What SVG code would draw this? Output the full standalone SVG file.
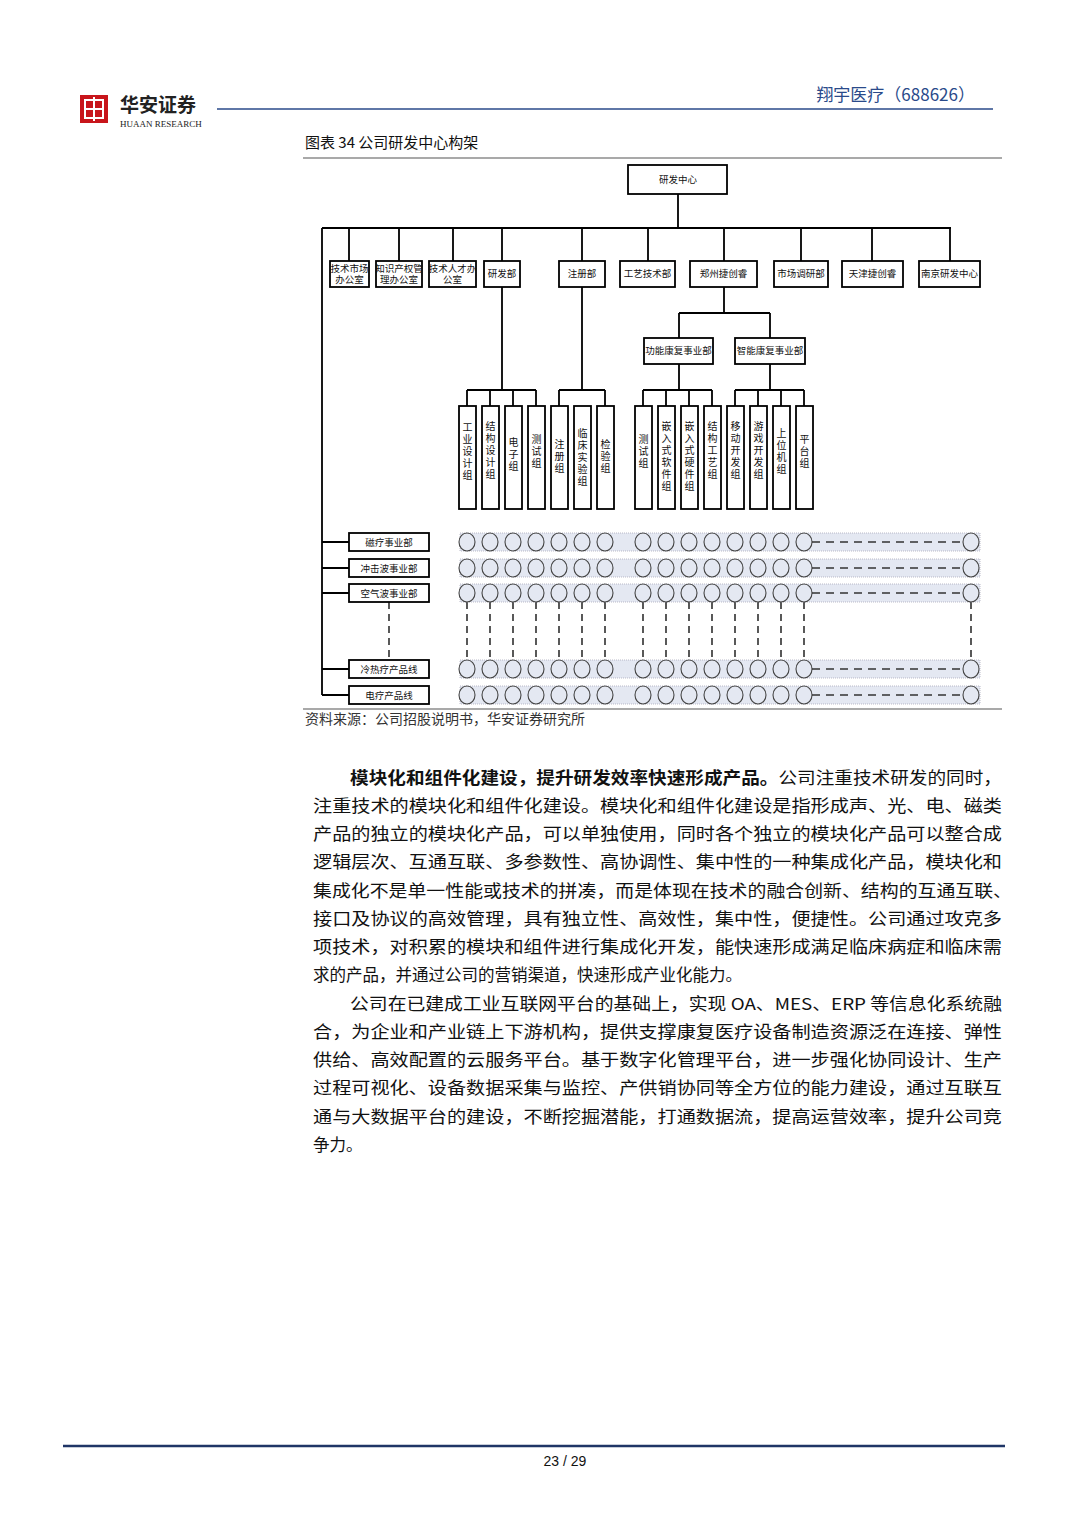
<svg xmlns="http://www.w3.org/2000/svg" width="1080" height="1527" viewBox="0 0 1080 1527">
<style>
.b{fill:#fff;stroke:#000;stroke-width:1.8}
.t{font-family:"Noto Sans CJK SC",sans-serif;font-size:9.5px;text-anchor:middle;fill:#111}
.v{font-family:"Noto Sans CJK SC",sans-serif;font-size:10px;text-anchor:middle;fill:#111}
.l{stroke:#000;stroke-width:1.8;fill:none}
.d{stroke:#000;stroke-width:1.3;stroke-dasharray:7 5;fill:none}
.dh{stroke:#333;stroke-width:1.3;stroke-dasharray:8 6;fill:none}
.band{fill:#e4e8f2;stroke:#aab;stroke-width:0.8;stroke-dasharray:1 1}
.c{fill:#e4e8f2;stroke:#444;stroke-width:1.1}
.p{font-family:"Noto Sans CJK SC",sans-serif;font-size:16.5px;fill:#111}
</style>
<rect width="1080" height="1527" fill="#fff"/>
<!-- header -->
<g id="header">
<rect x="80" y="95" width="28" height="28" fill="#c8151b"/>
<rect x="85" y="100" width="18" height="18" fill="none" stroke="#fff" stroke-width="2"/>
<line x1="94" y1="97" x2="94" y2="121" stroke="#fff" stroke-width="2"/>
<line x1="85" y1="109" x2="103" y2="109" stroke="#fff" stroke-width="2"/>
<text x="120" y="112" font-family="Noto Sans CJK SC,sans-serif" font-size="19" font-weight="bold" fill="#222">华安证券</text>
<text x="120" y="127" font-family="Liberation Serif,serif" font-size="9" fill="#222">HUAAN RESEARCH</text>
<line x1="217" y1="109" x2="993" y2="109" stroke="#2a4a8a" stroke-width="1.5"/>
<text x="975" y="101" text-anchor="end" font-family="Noto Sans CJK SC,sans-serif" font-size="17" fill="#2a4a8a">翔宇医疗（688626）</text>
<text x="305" y="148" font-family="Noto Sans CJK SC,sans-serif" font-size="15" fill="#111">图表 34 公司研发中心构架</text>
<line x1="303" y1="158" x2="1002" y2="158" stroke="#555" stroke-width="1.2"/>
</g>
<g id="connectors">
<path class="l" d="M678 194V228M322 228H951M322 228V695M349 228V261M399 228V261M453 228V261M502 228V261M582 228V261M648 228V261M724 228V261M801 228V261M872 228V261M950 228V261"/>
<path class="l" d="M724 287V313M679 313H770M679 313V338M770 313V338"/>
<path class="l" d="M502 287V390M467 390H536M467 390V406M490 390V406M513 390V406M536 390V406"/>
<path class="l" d="M582 287V390M559 390H605M559 390V406M605 390V406"/>
<path class="l" d="M679 364V390M643 390H712M643 390V406M666 390V406M689 390V406M712 390V406"/>
<path class="l" d="M770 364V390M735 390H804M735 390V406M758 390V406M781 390V406M804 390V406"/>
<path class="l" d="M322 542H349M322 568H349M322 593H349M322 669H349M322 695H349"/>
<path class="d" d="M389 602V660M467 602V660M490 602V660M513 602V660M536 602V660M559 602V660M582 602V660M605 602V660M643 602V660M666 602V660M689 602V660M712 602V660M735 602V660M758 602V660M781 602V660M804 602V660M971 602V660"/>
</g>
<g id="n-center"><rect class="b" x="628" y="165" width="99" height="29"/><text class="t" x="678" y="183" font-size="11">研发中心</text></g>
<g id="n-l2">
<rect class="b" x="330" y="261" width="39" height="26"/><text class="t" x="349.5" y="272">技术市场</text><text class="t" x="349.5" y="283">办公室</text>
<rect class="b" x="376" y="261" width="46" height="26"/><text class="t" x="399" y="272">知识产权管</text><text class="t" x="399" y="283">理办公室</text>
<rect class="b" x="429" y="261" width="47" height="26"/><text class="t" x="452.5" y="272">技术人才办</text><text class="t" x="452.5" y="283">公室</text>
<rect class="b" x="484" y="261" width="36" height="26"/><text class="t" x="502" y="277">研发部</text>
<rect class="b" x="559" y="261" width="46" height="26"/><text class="t" x="582" y="277">注册部</text>
<rect class="b" x="620" y="261" width="55" height="26"/><text class="t" x="647.5" y="277">工艺技术部</text>
<rect class="b" x="690" y="261" width="67" height="26"/><text class="t" x="723.5" y="277">郑州捷创睿</text>
<rect class="b" x="774" y="261" width="54" height="26"/><text class="t" x="801" y="277">市场调研部</text>
<rect class="b" x="842" y="261" width="61" height="26"/><text class="t" x="872.5" y="277">天津捷创睿</text>
<rect class="b" x="919" y="261" width="61" height="26"/><text class="t" x="949.5" y="277">南京研发中心</text>
</g>
<g id="n-l3">
<rect class="b" x="644" y="338" width="69" height="26"/><text class="t" x="678.5" y="354">功能康复事业部</text>
<rect class="b" x="735" y="338" width="70" height="26"/><text class="t" x="770" y="354">智能康复事业部</text>
</g>
<g id="n-groups">
<rect class="b" x="459" y="406" width="17" height="103"/><text class="v" x="467.5"><tspan x="467.5" y="431">工</tspan><tspan x="467.5" y="443">业</tspan><tspan x="467.5" y="455">设</tspan><tspan x="467.5" y="467">计</tspan><tspan x="467.5" y="479">组</tspan></text>
<rect class="b" x="482" y="406" width="17" height="103"/><text class="v"><tspan x="490.5" y="430">结</tspan><tspan x="490.5" y="442">构</tspan><tspan x="490.5" y="454">设</tspan><tspan x="490.5" y="466">计</tspan><tspan x="490.5" y="478">组</tspan></text>
<rect class="b" x="505" y="406" width="17" height="103"/><text class="v"><tspan x="513.5" y="446">电</tspan><tspan x="513.5" y="458">子</tspan><tspan x="513.5" y="470">组</tspan></text>
<rect class="b" x="528" y="406" width="17" height="103"/><text class="v"><tspan x="536.5" y="443">测</tspan><tspan x="536.5" y="455">试</tspan><tspan x="536.5" y="467">组</tspan></text>
<rect class="b" x="551" y="406" width="17" height="103"/><text class="v"><tspan x="559.5" y="448">注</tspan><tspan x="559.5" y="460">册</tspan><tspan x="559.5" y="472">组</tspan></text>
<rect class="b" x="574" y="406" width="17" height="103"/><text class="v"><tspan x="582.5" y="437">临</tspan><tspan x="582.5" y="449">床</tspan><tspan x="582.5" y="461">实</tspan><tspan x="582.5" y="473">验</tspan><tspan x="582.5" y="485">组</tspan></text>
<rect class="b" x="597" y="406" width="17" height="103"/><text class="v"><tspan x="605.5" y="448">检</tspan><tspan x="605.5" y="460">验</tspan><tspan x="605.5" y="472">组</tspan></text>
<rect class="b" x="635" y="406" width="17" height="103"/><text class="v"><tspan x="643.5" y="443">测</tspan><tspan x="643.5" y="455">试</tspan><tspan x="643.5" y="467">组</tspan></text>
<rect class="b" x="658" y="406" width="17" height="103"/><text class="v"><tspan x="666.5" y="430">嵌</tspan><tspan x="666.5" y="442">入</tspan><tspan x="666.5" y="454">式</tspan><tspan x="666.5" y="466">软</tspan><tspan x="666.5" y="478">件</tspan><tspan x="666.5" y="490">组</tspan></text>
<rect class="b" x="681" y="406" width="17" height="103"/><text class="v"><tspan x="689.5" y="430">嵌</tspan><tspan x="689.5" y="442">入</tspan><tspan x="689.5" y="454">式</tspan><tspan x="689.5" y="466">硬</tspan><tspan x="689.5" y="478">件</tspan><tspan x="689.5" y="490">组</tspan></text>
<rect class="b" x="704" y="406" width="17" height="103"/><text class="v"><tspan x="712.5" y="430">结</tspan><tspan x="712.5" y="442">构</tspan><tspan x="712.5" y="454">工</tspan><tspan x="712.5" y="466">艺</tspan><tspan x="712.5" y="478">组</tspan></text>
<rect class="b" x="727" y="406" width="17" height="103"/><text class="v"><tspan x="735.5" y="430">移</tspan><tspan x="735.5" y="442">动</tspan><tspan x="735.5" y="454">开</tspan><tspan x="735.5" y="466">发</tspan><tspan x="735.5" y="478">组</tspan></text>
<rect class="b" x="750" y="406" width="17" height="103"/><text class="v"><tspan x="758.5" y="430">游</tspan><tspan x="758.5" y="442">戏</tspan><tspan x="758.5" y="454">开</tspan><tspan x="758.5" y="466">发</tspan><tspan x="758.5" y="478">组</tspan></text>
<rect class="b" x="773" y="406" width="17" height="103"/><text class="v"><tspan x="781.5" y="437">上</tspan><tspan x="781.5" y="449">位</tspan><tspan x="781.5" y="461">机</tspan><tspan x="781.5" y="473">组</tspan></text>
<rect class="b" x="796" y="406" width="17" height="103"/><text class="v"><tspan x="804.5" y="443">平</tspan><tspan x="804.5" y="455">台</tspan><tspan x="804.5" y="467">组</tspan></text>
</g>
<defs>
<g id="row">
<rect class="band" x="460" y="-9" width="520" height="18"/>
<g class="c">
<ellipse cx="467" rx="8" ry="9"/><ellipse cx="490" rx="8" ry="9"/><ellipse cx="513" rx="8" ry="9"/><ellipse cx="536" rx="8" ry="9"/><ellipse cx="559" rx="8" ry="9"/><ellipse cx="582" rx="8" ry="9"/><ellipse cx="605" rx="8" ry="9"/>
<ellipse cx="643" rx="8" ry="9"/><ellipse cx="666" rx="8" ry="9"/><ellipse cx="689" rx="8" ry="9"/><ellipse cx="712" rx="8" ry="9"/><ellipse cx="735" rx="8" ry="9"/><ellipse cx="758" rx="8" ry="9"/><ellipse cx="781" rx="8" ry="9"/><ellipse cx="804" rx="8" ry="9"/><ellipse cx="971" rx="8" ry="9"/>
</g>
<path class="dh" d="M812 0H963"/>
</g>
</defs>
<g id="n-lines">
<rect class="b" x="349" y="533" width="80" height="18"/><text class="t" x="389" y="545.5">磁疗事业部</text>
<rect class="b" x="349" y="559" width="80" height="18"/><text class="t" x="389" y="571.5">冲击波事业部</text>
<rect class="b" x="349" y="584" width="80" height="18"/><text class="t" x="389" y="596.5">空气波事业部</text>
<rect class="b" x="349" y="660" width="80" height="18"/><text class="t" x="389" y="672.5">冷热疗产品线</text>
<rect class="b" x="349" y="686" width="80" height="18"/><text class="t" x="389" y="698.5">电疗产品线</text>
<use href="#row" y="542"/><use href="#row" y="568"/><use href="#row" y="593"/><use href="#row" y="669"/><use href="#row" y="695"/>
</g>
<line x1="303" y1="709" x2="1002" y2="709" stroke="#555" stroke-width="1.2"/>
<text x="305" y="724" font-family="Noto Sans CJK SC,sans-serif" font-size="14" fill="#333">资料来源：公司招股说明书，华安证券研究所</text>
<g id="body">
<text class="p" x="350" y="784" textLength="652" lengthAdjust="spacingAndGlyphs"><tspan font-weight="bold">模块化和组件化建设，提升研发效率快速形成产品。</tspan>公司注重技术研发的同时，</text>
<text class="p" x="313" y="812" textLength="689" lengthAdjust="spacingAndGlyphs">注重技术的模块化和组件化建设。模块化和组件化建设是指形成声、光、电、磁类</text>
<text class="p" x="313" y="840" textLength="689" lengthAdjust="spacingAndGlyphs">产品的独立的模块化产品，可以单独使用，同时各个独立的模块化产品可以整合成</text>
<text class="p" x="313" y="868" textLength="689" lengthAdjust="spacingAndGlyphs">逻辑层次、互通互联、多参数性、高协调性、集中性的一种集成化产品，模块化和</text>
<text class="p" x="313" y="897" textLength="699" lengthAdjust="spacingAndGlyphs">集成化不是单一性能或技术的拼凑，而是体现在技术的融合创新、结构的互通互联、</text>
<text class="p" x="313" y="925" textLength="689" lengthAdjust="spacingAndGlyphs">接口及协议的高效管理，具有独立性、高效性，集中性，便捷性。公司通过攻克多</text>
<text class="p" x="313" y="953" textLength="689" lengthAdjust="spacingAndGlyphs">项技术，对积累的模块和组件进行集成化开发，能快速形成满足临床病症和临床需</text>
<text class="p" x="313" y="981">求的产品，并通过公司的营销渠道，快速形成产业化能力。</text>
<text class="p" x="350" y="1010" textLength="652" lengthAdjust="spacingAndGlyphs">公司在已建成工业互联网平台的基础上，实现 OA、MES、ERP 等信息化系统融</text>
<text class="p" x="313" y="1038" textLength="689" lengthAdjust="spacingAndGlyphs">合，为企业和产业链上下游机构，提供支撑康复医疗设备制造资源泛在连接、弹性</text>
<text class="p" x="313" y="1066" textLength="689" lengthAdjust="spacingAndGlyphs">供给、高效配置的云服务平台。基于数字化管理平台，进一步强化协同设计、生产</text>
<text class="p" x="313" y="1094" textLength="689" lengthAdjust="spacingAndGlyphs">过程可视化、设备数据采集与监控、产供销协同等全方位的能力建设，通过互联互</text>
<text class="p" x="313" y="1123" textLength="689" lengthAdjust="spacingAndGlyphs">通与大数据平台的建设，不断挖掘潜能，打通数据流，提高运营效率，提升公司竞</text>
<text class="p" x="313" y="1151">争力。</text>
</g>
<g id="footer">
<line x1="63" y1="1446" x2="1005" y2="1446" stroke="#1f3566" stroke-width="2.5"/>
<text x="565" y="1466" text-anchor="middle" font-family="Liberation Sans,sans-serif" font-size="14" fill="#111">23 / 29</text>
</g>
</svg>
